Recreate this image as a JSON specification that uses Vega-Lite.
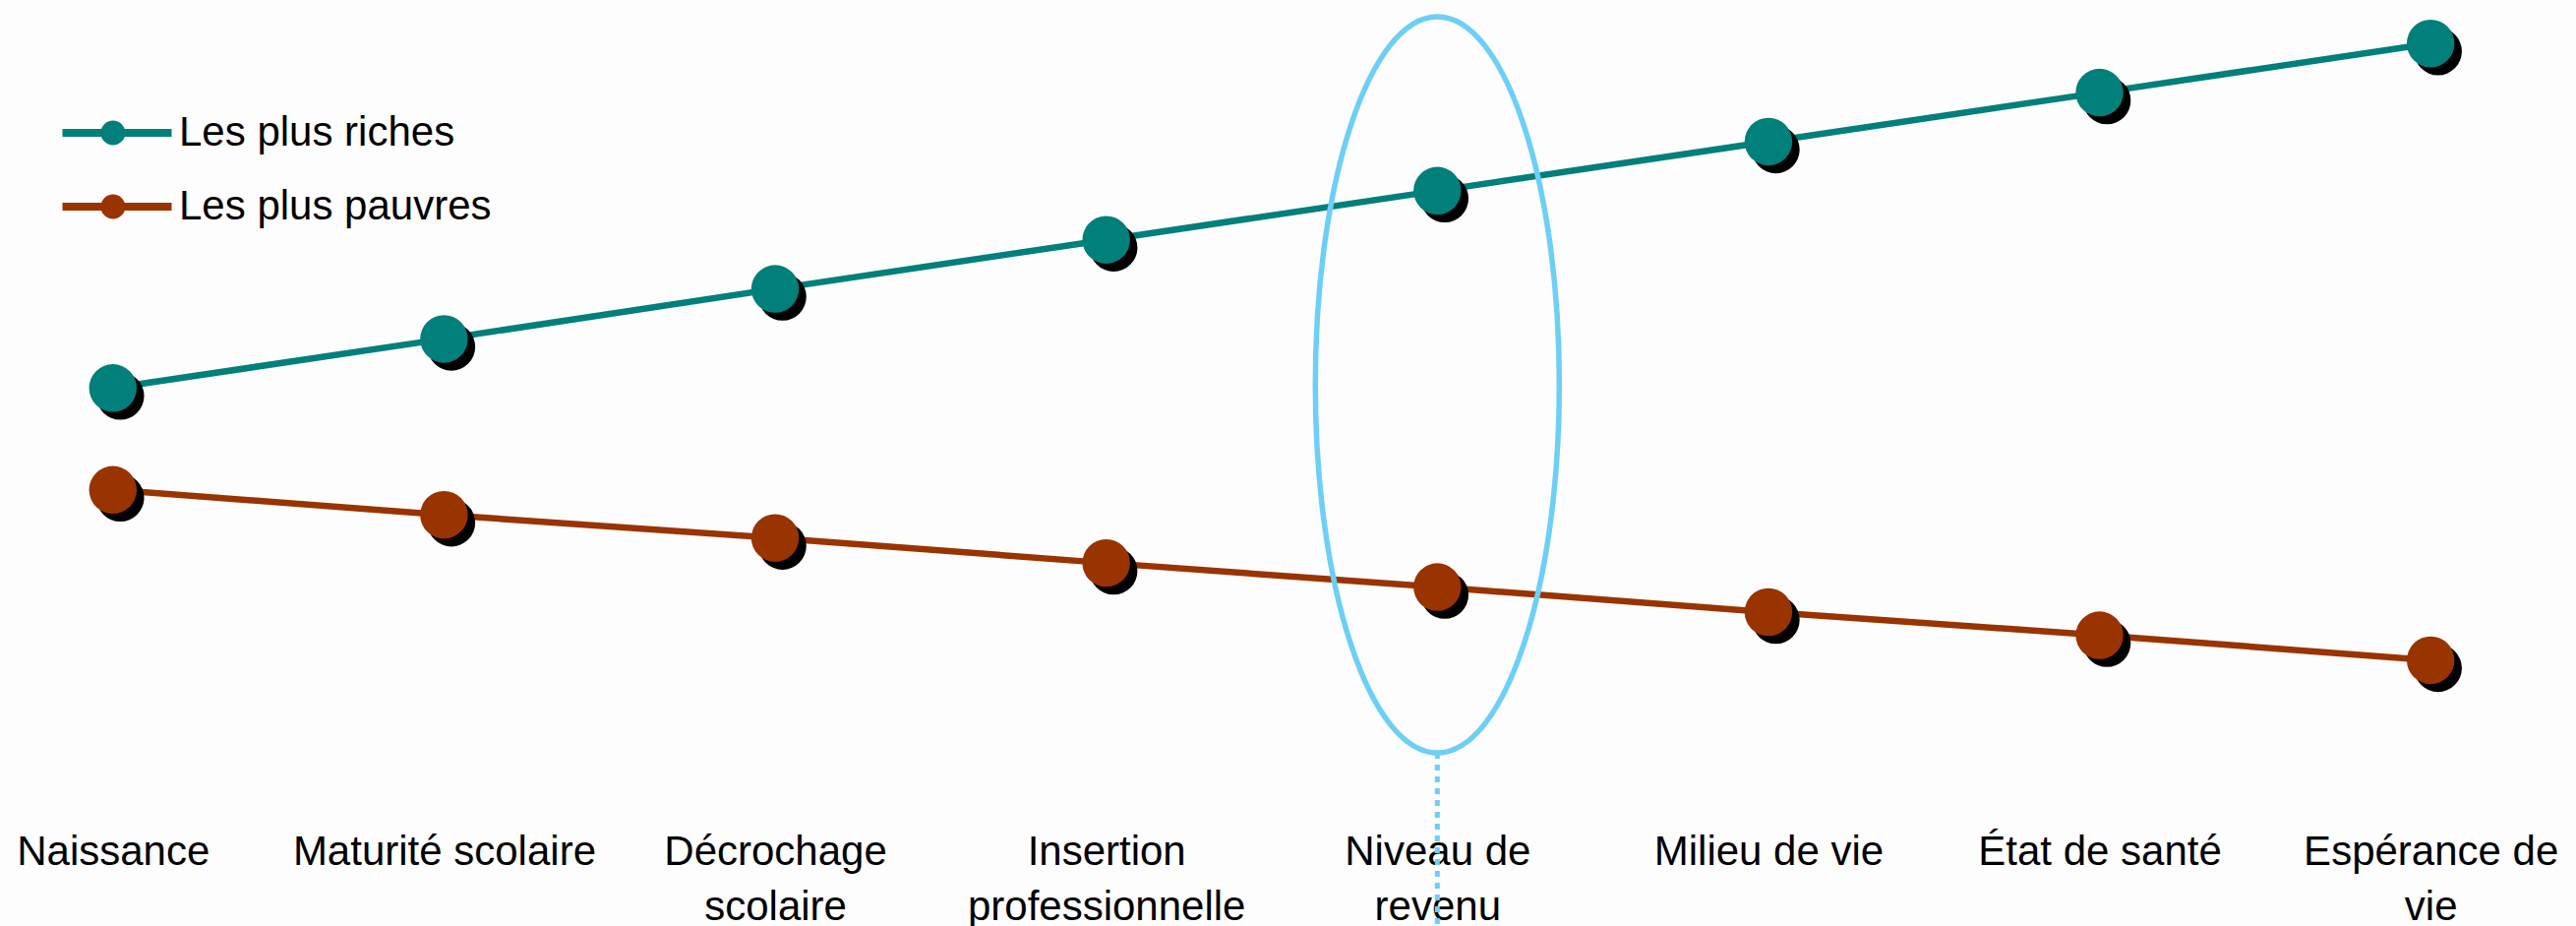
{
  "$schema": "https://vega.github.io/schema/vega-lite/v6.json",
  "width": 2586,
  "height": 941,
  "autosize": {"type": "none"},
  "padding": {"left": 0, "top": 0, "right": 33, "bottom": 0},
  "background": "#FDFDFD",
  "config": {"view": {"stroke": null}},
  "datasets": {
    "series": [
      {"etape": "Naissance", "serie": "Les plus riches", "valeur": 58.1},
      {"etape": "Maturité scolaire", "serie": "Les plus riches", "valeur": 63.4},
      {"etape": "Décrochage scolaire", "serie": "Les plus riches", "valeur": 68.8},
      {"etape": "Insertion professionnelle", "serie": "Les plus riches", "valeur": 74.1},
      {"etape": "Niveau de revenu", "serie": "Les plus riches", "valeur": 79.4},
      {"etape": "Milieu de vie", "serie": "Les plus riches", "valeur": 84.7},
      {"etape": "État de santé", "serie": "Les plus riches", "valeur": 90.0},
      {"etape": "Espérance de vie", "serie": "Les plus riches", "valeur": 95.3},
      {"etape": "Naissance", "serie": "Les plus pauvres", "valeur": 47.1},
      {"etape": "Maturité scolaire", "serie": "Les plus pauvres", "valeur": 44.4},
      {"etape": "Décrochage scolaire", "serie": "Les plus pauvres", "valeur": 41.9},
      {"etape": "Insertion professionnelle", "serie": "Les plus pauvres", "valeur": 39.2},
      {"etape": "Niveau de revenu", "serie": "Les plus pauvres", "valeur": 36.6},
      {"etape": "Milieu de vie", "serie": "Les plus pauvres", "valeur": 33.9},
      {"etape": "État de santé", "serie": "Les plus pauvres", "valeur": 31.4},
      {"etape": "Espérance de vie", "serie": "Les plus pauvres", "valeur": 28.7}
    ],
    "annotation": [
      {"etape": "Niveau de revenu", "centre": 58.45, "bas": 18.7, "fin": 0}
    ]
  },
  "encoding": {
    "x": {
      "field": "etape",
      "type": "nominal",
      "sort": null,
      "scale": {
        "type": "point",
        "domain": ["Naissance", "Maturité scolaire", "Décrochage scolaire", "Insertion professionnelle", "Niveau de revenu", "Milieu de vie", "État de santé", "Espérance de vie"],
        "padding": 0.341
      },
      "axis": {
        "title": null,
        "orient": "bottom",
        "offset": -96,
        "domain": false,
        "ticks": false,
        "tickSize": 0,
        "grid": false,
        "labelPadding": 0,
        "labelAngle": 0,
        "labelFont": "Liberation Sans",
        "labelFontSize": 42,
        "labelColor": "#000000",
        "labelLineHeight": 56,
        "labelOverlap": false,
        "labelFlush": false,
        "labelLimit": 0,
        "labelBaseline": "top",
        "labelExpr": "datum.value == 'Décrochage scolaire' ? ['Décrochage', 'scolaire'] : datum.value == 'Insertion professionnelle' ? ['Insertion', 'professionnelle'] : datum.value == 'Niveau de revenu' ? ['Niveau de', 'revenu'] : datum.value == 'Espérance de vie' ? ['Espérance de', 'vie'] : datum.value"
      }
    }
  },
  "layer": [
    {
      "data": {"name": "series"},
      "mark": {"type": "line", "strokeWidth": 6.5, "clip": false},
      "encoding": {
        "y": {"field": "valeur", "type": "quantitative", "scale": {"domain": [0, 100], "nice": false, "zero": true}, "axis": null},
        "color": {
          "field": "serie",
          "type": "nominal",
          "scale": {"domain": ["Les plus riches", "Les plus pauvres"], "range": ["#007F7B", "#993300"]},
          "legend": {
            "title": null,
            "orient": "none",
            "legendX": 98,
            "legendY": 114,
            "padding": 0,
            "rowPadding": 25,
            "labelOffset": 42,
            "labelFont": "Liberation Sans",
            "labelFontSize": 42,
            "labelColor": "#000000",
            "labelLimit": 0,
            "symbolSize": 400,
            "symbolStrokeWidth": 8,
            "symbolType": "M-5.55,0L5.55,0M-1.26,0C-1.26,-0.4695,-0.8795,-0.85,-0.41,-0.85C0.0595,-0.85,0.44,-0.4695,0.44,0C0.44,0.4695,0.0595,0.85,-0.41,0.85C-0.8795,0.85,-1.26,0.4695,-1.26,0Z",
            "encode": {
              "symbols": {
                "update": {
                  "fill": {"scale": "color", "field": "value"},
                  "stroke": {"scale": "color", "field": "value"},
                  "strokeWidth": {"value": 8},
                  "opacity": {"value": 1}
                }
              }
            }
          }
        }
      }
    },
    {
      "data": {"name": "series"},
      "mark": {"type": "circle", "color": "#000000", "size": 2350, "opacity": 1, "xOffset": 7.5, "yOffset": 8, "clip": false},
      "encoding": {
        "y": {"field": "valeur", "type": "quantitative", "axis": null},
        "detail": {"field": "serie"}
      }
    },
    {
      "data": {"name": "series"},
      "mark": {"type": "circle", "size": 2350, "opacity": 1, "clip": false},
      "encoding": {
        "y": {"field": "valeur", "type": "quantitative", "axis": null},
        "color": {"field": "serie", "type": "nominal"}
      }
    },
    {
      "data": {"name": "annotation"},
      "mark": {"type": "rule", "color": "#6DCFF6", "strokeWidth": 5, "strokeDash": [6, 6], "strokeCap": "butt", "clip": false},
      "encoding": {
        "y": {"field": "bas", "type": "quantitative", "axis": null},
        "y2": {"field": "fin"}
      }
    },
    {
      "data": {"name": "annotation"},
      "mark": {
        "type": "point",
        "shape": "M0,-1C0.1831,-1,0.3316,-0.5523,0.3316,0C0.3316,0.5523,0.1831,1,0,1C-0.1831,1,-0.3316,0.5523,-0.3316,0C-0.3316,-0.5523,-0.1831,-1,0,-1Z",
        "size": 559504,
        "filled": false,
        "stroke": "#6DCFF6",
        "strokeWidth": 5.5,
        "opacity": 1,
        "clip": false
      },
      "encoding": {
        "y": {"field": "centre", "type": "quantitative", "axis": null}
      }
    }
  ]
}
